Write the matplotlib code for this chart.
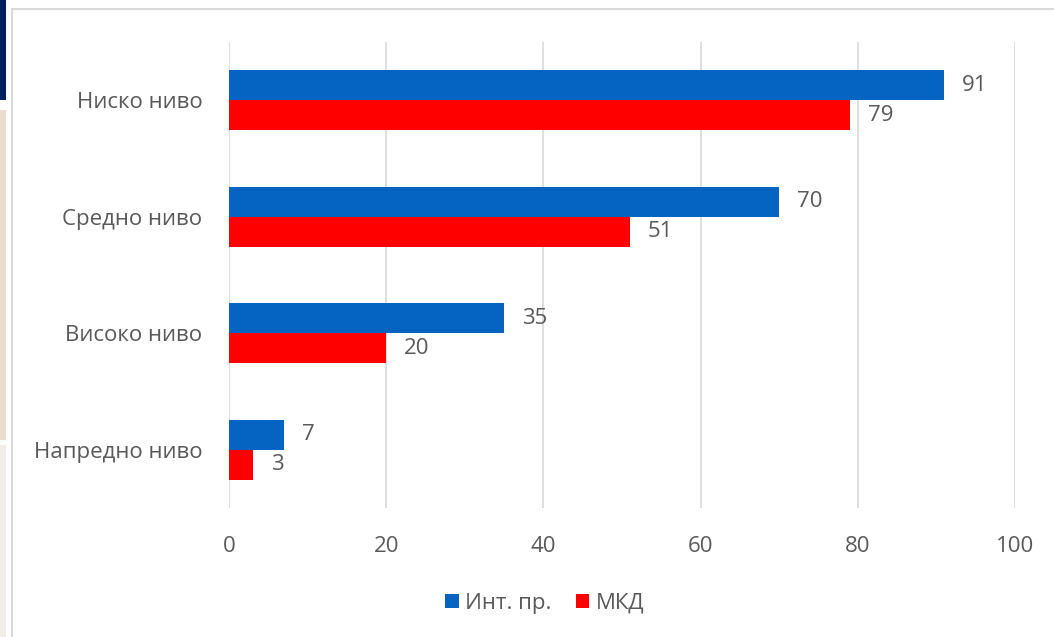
import numpy as np
import matplotlib.pyplot as plt
from matplotlib.patches import Rectangle

plt.rcParams['font.family'] = ['Open Sans', 'DejaVu Sans']

levels = ['Ниско ниво', 'Средно ниво', 'Високо ниво', 'Напредно ниво']
int_pr = [91, 70, 35, 7]
mkd = [79, 51, 20, 3]
series_names = ['Инт. пр.', 'МКД']
xticks = [0, 20, 40, 60, 80, 100]

blue = '#0563C1'
red = '#FF0000'
txt = '#595959'
fs = 16

fig = plt.figure(figsize=(10.54, 6.37), dpi=100)

# screenshot frame and left-edge strips
W, H = 1054, 637
def px_rect(x0, y0, x1, y1, **kw):
    fig.patches.append(Rectangle((x0 / W, 1 - y1 / H), (x1 - x0) / W, (y1 - y0) / H,
                                 transform=fig.transFigure, **kw))
px_rect(0, 0, 6, 100, color='#002060', lw=0)
px_rect(0, 110, 6, 440, color='#EADDCB', lw=0)
px_rect(0, 445, 6, 637, color='#F3ECE6', lw=0)
px_rect(12, 9, 1060, 645, fill=False, ec='#D9D9D9', lw=1.5)

ax = fig.add_axes([229 / W, 1 - 508 / H, (1015 - 229) / W, (508 - 42) / H])

y = np.arange(len(levels))
h = 0.257
b1 = ax.barh(y - h / 2, int_pr, height=h, color=blue, label=series_names[0], zorder=3)
b2 = ax.barh(y + h / 2, mkd, height=h, color=red, label=series_names[1], zorder=3)

for bars, vals in ((b1, int_pr), (b2, mkd)):
    for bar, v in zip(bars, vals):
        ax.annotate(str(v), (v, bar.get_y() + bar.get_height() / 2),
                    xytext=(13, 0), textcoords='offset points', va='center', ha='left',
                    fontsize=fs, color=txt)

ax.set_xlim(0, 100)
ax.set_ylim(3.5, -0.5)
ax.set_xticks(xticks)
ax.set_yticks(y)
ax.set_yticklabels(levels)
ax.tick_params(axis='both', length=0, labelsize=fs, labelcolor=txt)
ax.tick_params(axis='y', pad=19)
ax.tick_params(axis='x', pad=20)
ax.grid(axis='x', color='#D9D9D9', lw=1.2, zorder=0)
for s in ax.spines.values():
    s.set_visible(False)

ax.legend(loc='center', bbox_to_anchor=(545 / W, 1 - 603 / H), bbox_transform=fig.transFigure,
          ncol=2, frameon=False, fontsize=fs, labelcolor=txt, handlelength=0.6,
          handleheight=0.6, handletextpad=0.3, columnspacing=1.1)

fig.savefig('out.png', dpi=100)
